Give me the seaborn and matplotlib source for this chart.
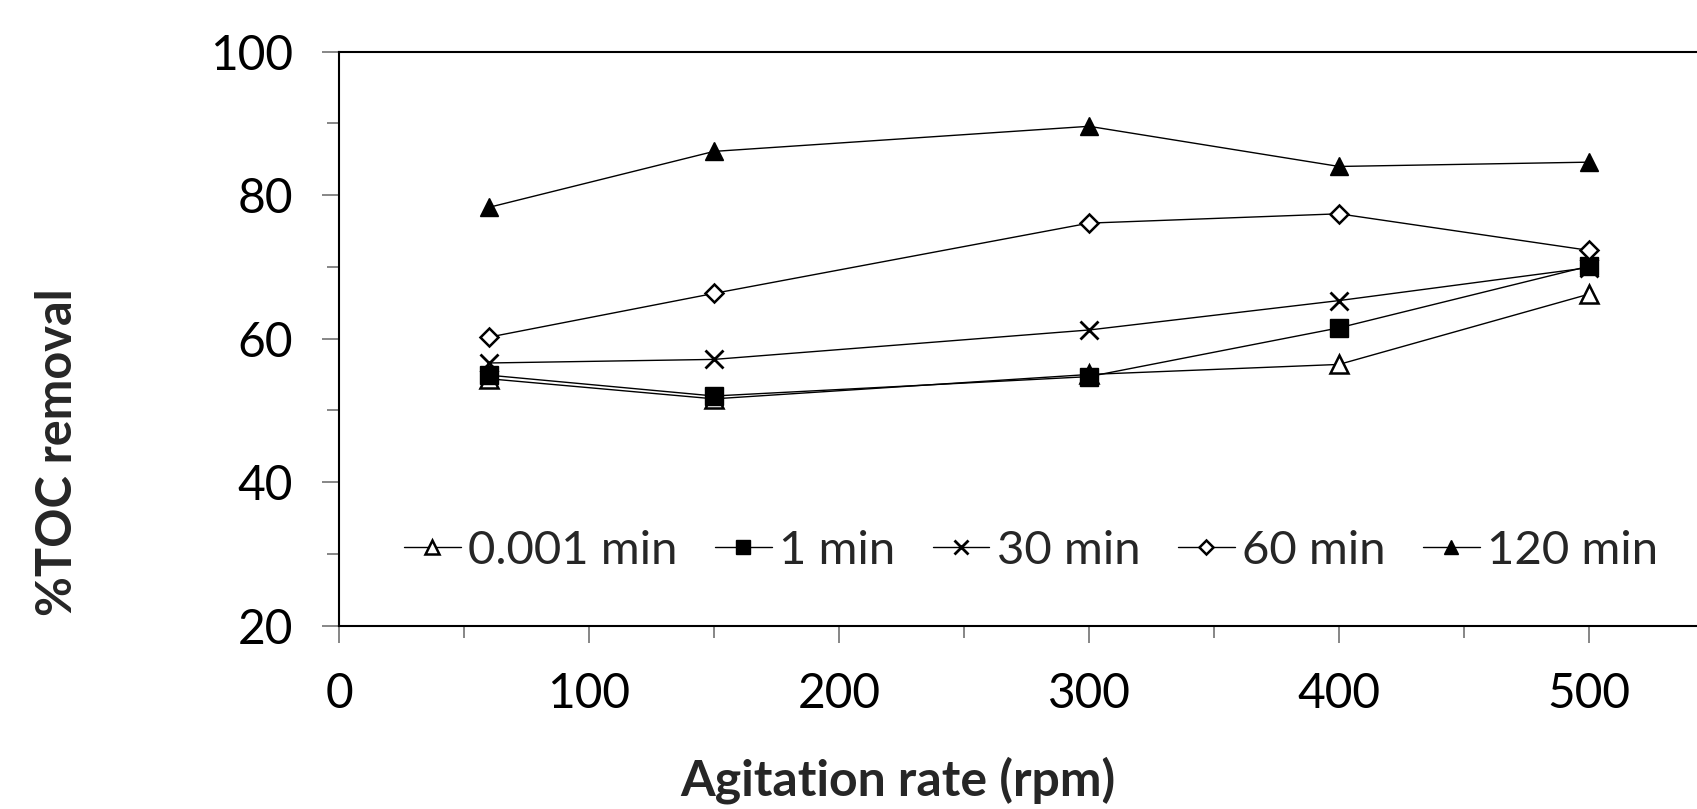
import matplotlib
matplotlib.use("Agg")
import matplotlib.pyplot as plt
import seaborn as sns
import pandas as pd
from matplotlib.ticker import MultipleLocator

# ---- data ----
rpm = [60, 150, 300, 400, 500]
series_labels = ["0.001 min", "1 min", "30 min", "60 min", "120 min"]
toc_0001 = [54.4, 51.6, 55.0, 56.4, 66.2]
toc_1 = [54.9, 52.0, 54.7, 61.5, 70.1]
toc_30 = [56.6, 57.1, 61.2, 65.3, 69.9]
toc_60 = [60.2, 66.3, 76.1, 77.4, 72.3]
toc_120 = [78.3, 86.1, 89.6, 84.0, 84.6]
y_ticks = [20, 40, 60, 80, 100]
x_ticks = [0, 100, 200, 300, 400, 500]

sns.set_theme(style="white")
plt.rcParams["font.family"] = ["Lato", "DejaVu Sans"]

W, H, DPI = 1697, 809, 100
fig = plt.figure(figsize=(W / DPI, H / DPI), dpi=DPI)
fig.patch.set_facecolor("white")

# axes extends beyond right edge of figure (chart is cropped there)
left_px, right_px, top_px, bottom_px = 339, 339 + 1500, 51.7, 625.5
ax = fig.add_axes([left_px / W, 1 - bottom_px / H,
                   (right_px - left_px) / W, (bottom_px - top_px) / H])
ax.set_facecolor("white")

styles = [
    dict(marker="^", markersize=13, markerfacecolor="white", markeredgewidth=1.8),
    dict(marker="s", markersize=12.5, markerfacecolor="black", markeredgewidth=1.0),
    dict(marker="x", markersize=12.5, markeredgewidth=2.0),
    dict(marker="D", markersize=9.5, markerfacecolor="white", markeredgewidth=1.8),
    dict(marker="^", markersize=13.5, markerfacecolor="black", markeredgewidth=1.0),
]
all_series = [toc_0001, toc_1, toc_30, toc_60, toc_120]

for lab, vals, st in zip(series_labels, all_series, styles):
    df = pd.DataFrame({"rpm": rpm, "toc": vals})
    sns.lineplot(data=df, x="rpm", y="toc", ax=ax, color="black",
                 linewidth=1.0, markeredgecolor="black", label=lab,
                 clip_on=False, **st)

ax.set_xlim(0, 600)
ax.set_ylim(20, 100)
ax.set_xticks(x_ticks)
ax.set_yticks(y_ticks)
ax.xaxis.set_minor_locator(MultipleLocator(50))
ax.yaxis.set_minor_locator(MultipleLocator(10))
ax.set_xlabel("")
ax.set_ylabel("")

for s in ["left", "bottom", "top"]:
    ax.spines[s].set_visible(True)
    ax.spines[s].set_color("black")
    ax.spines[s].set_linewidth(1.5)
ax.spines["right"].set_visible(False)

ax.tick_params(axis="both", which="major", direction="out", length=12.2,
               width=1.4, color="#868686", labelsize=34.5, pad=21,
               labelcolor="black", left=True, bottom=True)
ax.tick_params(axis="both", which="minor", direction="out", length=8.6,
               width=1.4, color="#868686", left=True, bottom=True)

# legend
handles, labels = ax.get_legend_handles_labels()
ax.legend(handles, labels, ncol=5, loc="center",
          bbox_to_anchor=(1031 / W, 1 - 551 / H), bbox_transform=fig.transFigure,
          frameon=False, fontsize=34, handlelength=1.2, handletextpad=0.15,
          columnspacing=0.8, markerscale=0.75, borderaxespad=0, borderpad=0)

# axis titles
fig.text(898 / W, 1 - 795 / H, "Agitation rate (rpm)", ha="center",
         va="baseline", fontsize=36, fontweight="bold")
fig.text(58 / W, 1 - 452 / H, "%TOC removal", ha="center", va="center",
         rotation=90, fontsize=35, fontweight="bold")

fig.savefig("out.png", dpi=DPI, facecolor="white")
